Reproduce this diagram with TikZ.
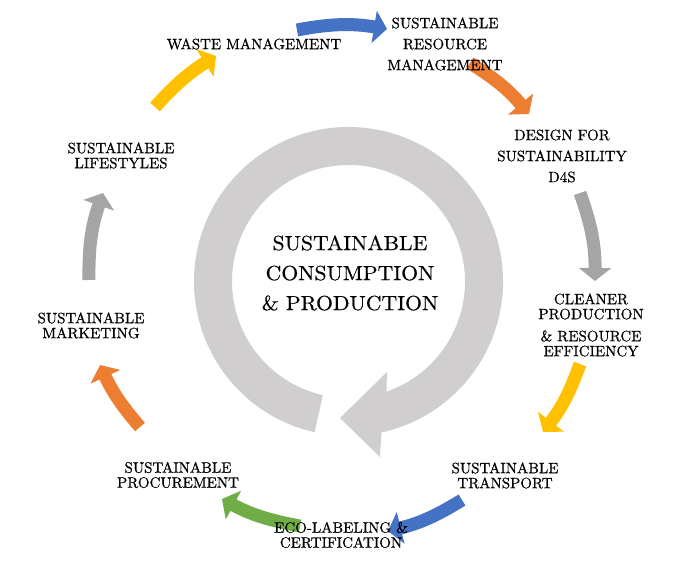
\documentclass[tikz,border=0pt]{standalone}
\usepackage{fontspec}
\usetikzlibrary{arrows.meta,calc}
\newfontfamily\lblfont{lmroman10-regular.otf}[FakeBold=0.7]
\newfontfamily\ttlfont{lmroman10-regular.otf}[FakeBold=0.4,FakeStretch=1.06]
\definecolor{ringgray}{RGB}{208,206,206}
\definecolor{offblue}{RGB}{68,114,196}
\definecolor{offorange}{RGB}{237,125,49}
\definecolor{offgray}{RGB}{165,165,165}
\definecolor{offgold}{RGB}{255,192,0}
\definecolor{offgreen}{RGB}{112,173,71}
\begin{document}
\begin{tikzpicture}[x=1pt,y=1pt,
  arr/.style={line width=13pt,-{Triangle[width=32pt,length=13pt]}},
  lbl/.style={align=center,inner sep=0pt,font=\lblfont\fontsize{15}{15}\selectfont},
  lblw/.style={align=center,inner sep=0pt,font=\lblfont\fontsize{15}{21}\selectfont},
  title/.style={align=center,inner sep=0pt,font=\ttlfont\fontsize{20.5}{30}\selectfont}]
\useasboundingbox (0,0) rectangle (682,581);
\coordinate (c) at (348.5,299.5);
% big circular arrow
\fill[ringgray] ($(c)+(-102.7:154.5)$) arc[start angle=-102.7,end angle=-437.7,radius=154.5]
  -- (380,124) -- (340,163) -- (387,209)
  -- ($(c)+(-431:116.5)$) arc[start angle=-431,end angle=-102.7,radius=116.5] -- cycle;
% arrow end points
\coordinate (a1s) at (297,551); \coordinate (a1e) at (387,552);
\coordinate (a2s) at (470,518); \coordinate (a2e) at (529,467);
\coordinate (a3s) at (580,388); \coordinate (a3e) at (595,300);
\coordinate (a4s) at (580,217); \coordinate (a4e) at (543,149);
\coordinate (a5s) at (462,81);  \coordinate (a5e) at (388,50);
\coordinate (a6s) at (300,55);  \coordinate (a6e) at (222,82);
\coordinate (a7s) at (140,154); \coordinate (a7e) at (100,216);
\coordinate (a8s) at (89,301);  \coordinate (a8e) at (103,388);
\coordinate (a9s) at (155,474); \coordinate (a9e) at (216,525);
\draw[arr,offblue]   (a1s) to[bend left=10] (a1e);
\draw[arr,offorange] (a2s) to[bend left=9] (a2e);
\draw[arr,offgray]   (a3s) to[bend left=10] (a3e);
\draw[arr,offgold]   (a4s) to[bend left=9] (a4e);
\draw[arr,offblue]   (a5s) to[bend left=9] (a5e);
\draw[arr,offgreen]  (a6s) to[bend left=9] (a6e);
\draw[arr,offorange] (a7s) to[bend left=8] (a7e);
\draw[arr,offgray]   (a8s) to[bend left=10] (a8e);
\draw[arr,offgold]   (a9s) to[bend left=8] (a9e);
% labels
\node[title] (scp) at (350,308) {SUSTAINABLE\\CONSUMPTION\\\& PRODUCTION};
\node[lbl]  (waste) at (254,537) {WASTE MANAGEMENT};
\node[lblw] (srm)   at (445,537) {SUSTAINABLE\\RESOURCE\\MANAGEMENT};
\node[lblw] (d4s)   at (562,425) {DESIGN FOR\\SUSTAINABILITY\\D4S};
\node[lbl]  (clean) at (591,256) {CLEANER\\PRODUCTION\\[7pt]\& RESOURCE\\EFFICIENCY};
\node[lbl]  (trans) at (505,105.5) {SUSTAINABLE\\TRANSPORT};
\node[lbl]  (eco)   at (341,46) {ECO-LABELING \&\\CERTIFICATION};
\node[lbl]  (proc)  at (178,106) {SUSTAINABLE\\PROCUREMENT};
\node[lbl]  (mark)  at (91,255.5) {SUSTAINABLE\\MARKETING};
\node[lbl]  (life)  at (121,425.5) {SUSTAINABLE\\LIFESTYLES};
\end{tikzpicture}
\end{document}
